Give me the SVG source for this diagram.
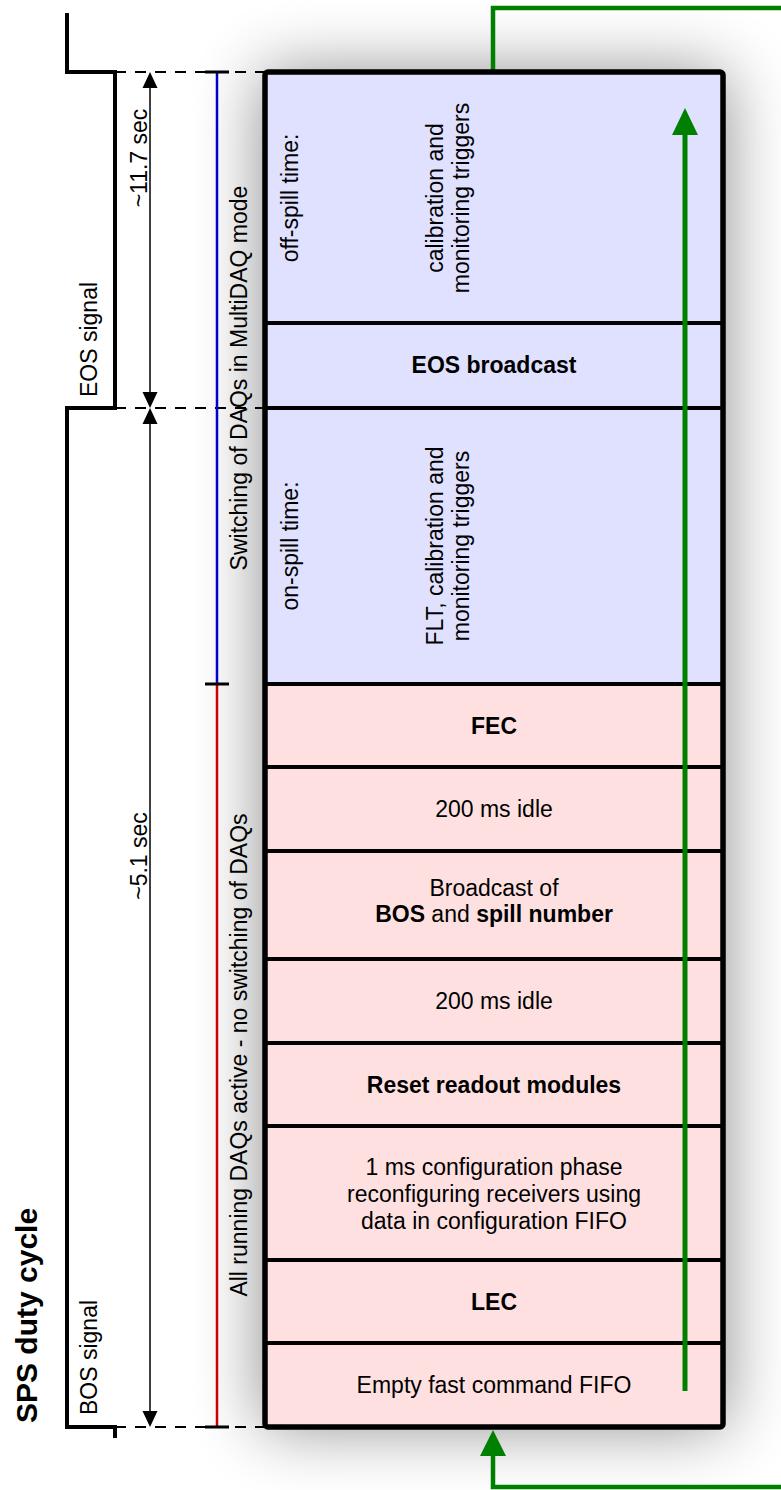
<svg xmlns="http://www.w3.org/2000/svg" width="781" height="1490" viewBox="0 0 781 1490">
<style>
text{font-family:"Liberation Sans",Arial,sans-serif;fill:#000}
.t{font-size:23px}
.c{text-anchor:middle}
.b{font-weight:bold}
.sig{fill:none;stroke:#000;stroke-width:4}
.dash{fill:none;stroke:#000;stroke-width:2;stroke-dasharray:11 9}
.div{stroke:#000;stroke-width:4}
.grn{fill:none;stroke:#008000;stroke-width:4.5}
.tick{stroke:#000;stroke-width:3}
</style>
<defs>
<filter id="sh" x="-40%" y="-15%" width="180%" height="130%"><feGaussianBlur stdDeviation="34"/></filter>
</defs>
<rect width="781" height="1490" fill="#fff"/>
<rect x="262" y="72" width="464" height="1355" fill="#000" opacity="0.45" filter="url(#sh)"/>

<g id="signal">
<path class="sig" d="M67,13 V72 H115 V408 H67 V1427 H115 V1438"/>
<text class="t" transform="translate(97,397) rotate(-90)">EOS signal</text>
<text class="t" transform="translate(97,1415) rotate(-90)">BOS signal</text>
</g>
<g id="title"><text class="b" font-size="30" transform="translate(37,1423) rotate(-90)">SPS duty cycle</text></g>

<g id="connectors">
<path class="dash" d="M115,72 H265 M115,408 H265 M115,1427 H265"/>
<line x1="150" y1="85" x2="150" y2="395" stroke="#000" stroke-width="1.5"/>
<line x1="150" y1="421" x2="150" y2="1414" stroke="#000" stroke-width="1.5"/>
<polygon points="150,72 142.5,88 157.5,88"/>
<polygon points="150,408 142.5,392 157.5,392"/>
<polygon points="150,408 142.5,424 157.5,424"/>
<polygon points="150,1427 142.5,1411 157.5,1411"/>
<line x1="217" y1="72" x2="217" y2="684" stroke="#0000cc" stroke-width="2.5"/>
<line x1="217" y1="684" x2="217" y2="1427" stroke="#cc0000" stroke-width="2.5"/>
<line class="tick" x1="205" y1="72" x2="229" y2="72"/>
<line class="tick" x1="205" y1="684" x2="229" y2="684"/>
<line class="tick" x1="205" y1="1427" x2="229" y2="1427"/>
<path class="grn" d="M493,72 V8 H781"/>
<path class="grn" d="M781,1487 H493 V1454"/>
<polygon points="493,1430 480,1456 506,1456" fill="#008000"/>
</g>
<g id="labels">
<text class="t c" transform="translate(147,158) rotate(-90)">~11.7 sec</text>
<text class="t c" transform="translate(147,856) rotate(-90)">~5.1 sec</text>
<text class="t c" transform="translate(247,378) rotate(-90)">Switching of DAQs in MultiDAQ mode</text>
<text class="t c" transform="translate(247,1055) rotate(-90)">All running DAQs active - no switching of DAQs</text>
</g>

<g id="box">
<rect x="265" y="72" width="458" height="612" fill="#e0e0ff"/>
<rect x="265" y="684" width="458" height="743" fill="#ffe0e0"/>
<g id="off-spill">
<text class="t c" transform="translate(298,198) rotate(-90)">off-spill time:</text>
<text class="t c" transform="translate(443,198) rotate(-90)">calibration and</text>
<text class="t c" transform="translate(469,198) rotate(-90)">monitoring triggers</text>
</g>
<g id="eos-broadcast"><text class="t c b" x="494" y="373">EOS broadcast</text></g>
<g id="on-spill">
<text class="t c" transform="translate(298,546) rotate(-90)">on-spill time:</text>
<text class="t c" transform="translate(443,546) rotate(-90)">FLT, calibration and</text>
<text class="t c" transform="translate(469,546) rotate(-90)">monitoring triggers</text>
</g>
<g id="fec"><text class="t c b" x="494" y="734">FEC</text></g>
<g id="idle1"><text class="t c" x="494" y="817">200 ms idle</text></g>
<g id="broadcast"><text class="t c" x="494" y="896">Broadcast of</text>
<text class="t c" x="494" y="922"><tspan class="b">BOS</tspan> and <tspan class="b">spill number</tspan></text></g>
<g id="idle2"><text class="t c" x="494" y="1009">200 ms idle</text></g>
<g id="reset"><text class="t c b" x="494" y="1093">Reset readout modules</text></g>
<g id="config"><text class="t c" x="494" y="1175">1 ms configuration phase</text>
<text class="t c" x="494" y="1202">reconfiguring receivers using</text>
<text class="t c" x="494" y="1229">data in configuration FIFO</text></g>
<g id="lec"><text class="t c b" x="494" y="1310">LEC</text></g>
<g id="empty"><text class="t c" x="494" y="1393">Empty fast command FIFO</text></g>
<path class="div" d="M265,323 H723 M265,408 H723 M265,684 H723 M265,767 H723 M265,851 H723 M265,959 H723 M265,1043 H723 M265,1126 H723 M265,1260 H723 M265,1343 H723"/>
<rect x="265" y="72" width="458" height="1355" rx="3" fill="none" stroke="#000" stroke-width="5.5"/>
</g>
<g id="cycle-arrow">
<line x1="685" y1="1391" x2="685" y2="132" stroke="#008000" stroke-width="5"/>
<polygon points="685,108 672,135 698,135" fill="#008000"/>
</g>
</svg>
